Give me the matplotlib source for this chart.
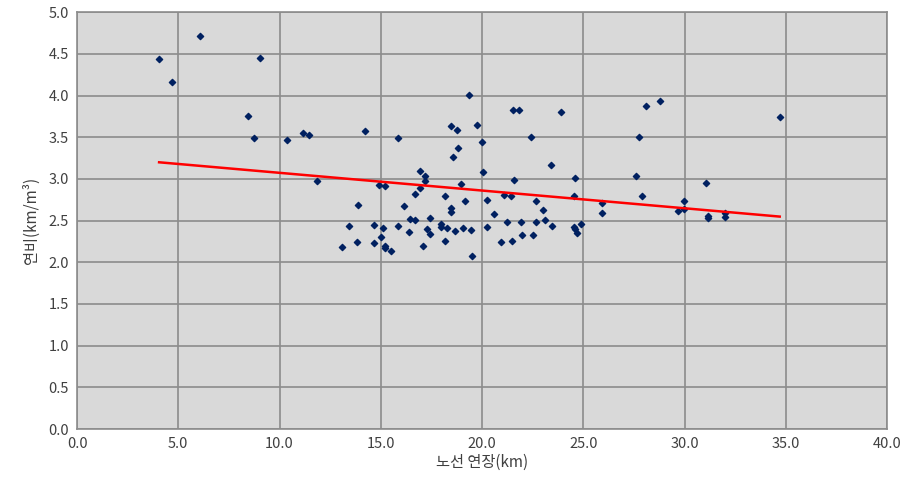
import numpy as np
import matplotlib.pyplot as plt

plt.rcParams['font.family'] = ['Noto Sans CJK KR', 'DejaVu Sans']

# route length (km) and fuel efficiency (km/m3)
length = [4.05, 4.68, 6.07, 9.05, 8.46, 8.75, 10.36, 11.15, 11.44, 14.24, 11.84,
          15.85, 19.34, 21.53, 21.82, 23.88, 18.49, 18.78, 19.74, 22.43, 19.98,
          18.83, 18.54, 23.38, 20.03, 16.95, 17.19, 17.19, 21.58, 24.61, 14.89,
          15.19, 16.95, 18.98, 16.68, 18.18, 19.18, 20.25, 21.08, 21.43, 24.52,
          22.68, 23.02, 20.59, 13.89, 16.14, 18.49, 18.49, 16.44, 16.68, 17.44,
          13.45, 14.65, 15.09, 15.85, 17.27, 17.44, 16.39, 17.99, 17.99, 18.29,
          18.68, 19.08, 19.44, 20.25, 21.23, 21.94, 22.68, 23.09, 23.43, 24.52,
          24.57, 24.71, 24.91, 13.09, 13.84, 14.65, 14.99, 15.19, 15.19, 15.48,
          17.08, 18.18, 19.52, 20.92, 21.48, 21.99, 22.53, 28.11, 28.77, 34.70,
          27.75, 27.60, 31.05, 27.91, 25.91, 25.91, 29.95, 29.95, 29.66, 31.15,
          31.15, 32.0, 32.0]
efficiency = [4.44, 4.16, 4.72, 4.45, 3.76, 3.49, 3.47, 3.55, 3.53, 3.57, 2.97,
              3.49, 4.01, 3.83, 3.83, 3.80, 3.64, 3.59, 3.65, 3.50, 3.44,
              3.37, 3.26, 3.17, 3.08, 3.09, 3.03, 2.98, 2.99, 3.01, 2.93,
              2.91, 2.89, 2.94, 2.82, 2.79, 2.74, 2.75, 2.81, 2.79, 2.80,
              2.73, 2.63, 2.58, 2.69, 2.68, 2.65, 2.60, 2.52, 2.51, 2.53,
              2.43, 2.45, 2.41, 2.43, 2.40, 2.34, 2.36, 2.46, 2.42, 2.41,
              2.37, 2.41, 2.39, 2.42, 2.48, 2.48, 2.48, 2.51, 2.43, 2.42,
              2.40, 2.35, 2.46, 2.18, 2.24, 2.23, 2.30, 2.20, 2.17, 2.13,
              2.20, 2.25, 2.08, 2.24, 2.26, 2.33, 2.33, 3.87, 3.93, 3.74,
              3.50, 3.03, 2.95, 2.79, 2.71, 2.59, 2.73, 2.64, 2.61, 2.55,
              2.53, 2.59, 2.54]

# linear trend line
slope, intercept = np.polyfit(length, efficiency, 1)
tx = np.array([min(length), max(length)])

fig = plt.figure(figsize=(9.07, 4.87), dpi=100)
ax = fig.add_axes([0.085, 0.119, 0.893, 0.856])
ax.set_facecolor('#d9d9d9')

ax.scatter(length, efficiency, marker='D', s=10, color='#002060', zorder=3)
ax.plot(tx, slope * tx + intercept, color='#ff0000', lw=1.8, zorder=4)

ax.set_xlim(0, 40)
ax.set_ylim(0, 5)
ax.set_xticks(np.arange(0, 40.1, 5))
ax.set_yticks(np.arange(0, 5.01, 0.5))
ax.xaxis.set_major_formatter(plt.FormatStrFormatter('%.1f'))
ax.yaxis.set_major_formatter(plt.FormatStrFormatter('%.1f'))
ax.grid(True, color='#8c8c8c', lw=1.2)
ax.set_axisbelow(True)
ax.tick_params(length=0, labelsize=10.5, colors='#404040', pad=6)
for s in ax.spines.values():
    s.set_color('#8c8c8c')
    s.set_linewidth(1.2)

ax.set_xlabel('노선 연장(km)', fontsize=11, color='#404040', labelpad=2)
ax.set_ylabel('연비(km/m³)', fontsize=11, color='#404040', labelpad=6)

fig.savefig('out.png')
print(slope, intercept)
